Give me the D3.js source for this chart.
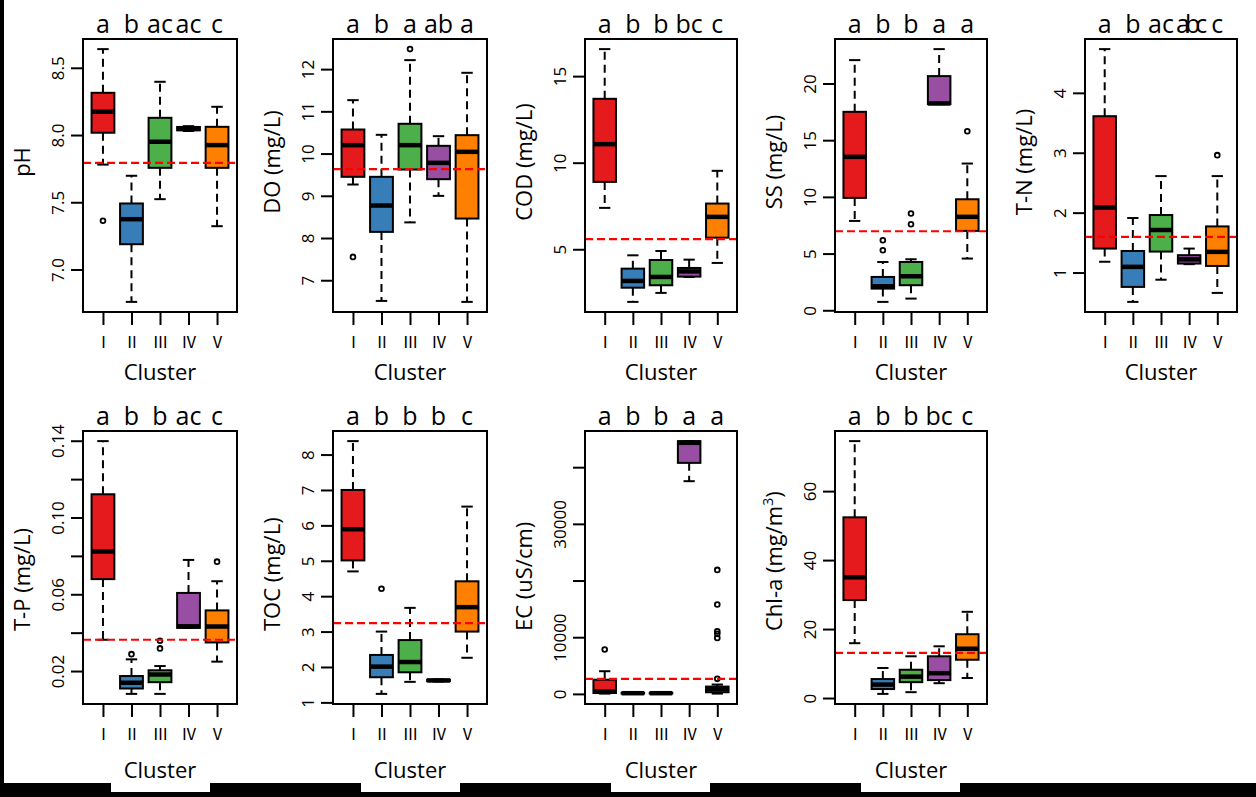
<!DOCTYPE html>
<html><head><meta charset="utf-8">
<script src="https://cdn.jsdelivr.net/npm/d3@7"></script>
<style>body{margin:0;background:#fff}svg{display:block}text{font-family:"Open Sans","Noto Sans CJK KR",sans-serif;fill:#000}</style>
</head><body><svg id="c" width="1256" height="797"></svg>
<script>
// ---------- data ----------
const clusters = ["Ⅰ","Ⅱ","Ⅲ","Ⅳ","Ⅴ"];
const clusterColors = ["#E41A1C","#377EB8","#4DAF4A","#984EA3","#FF7F00"];
// stats per cluster: [lower whisker, Q1, median, Q3, upper whisker]
const pHStats = [[7.78,8.017,8.173,8.314,8.639],[6.759,7.188,7.374,7.491,7.697],[7.523,7.756,7.95,8.128,8.396],[8.03,8.035,8.046,8.06,8.066],[7.322,7.756,7.925,8.061,8.21]];
const pHOut = [[7.362],[],[],[],[]];
const DOStats = [[9.267,9.449,10.199,10.57,11.265],[6.51,8.145,8.769,9.449,10.444],[8.37,9.622,10.199,10.705,12.213],[8.998,9.393,9.78,10.183,10.412],[6.487,8.461,10.041,10.436,11.913]];
const DOOut = [[7.553],[],[12.474],[],[]];
const CODStats = [[7.39,8.89,11.07,13.69,16.56],[1.96,2.78,3.17,3.88,4.65],[2.48,2.92,3.4,4.38,4.9],[3.4,3.42,3.72,3.92,4.4],[4.21,5.67,6.87,7.64,9.53]];
const CODOut = [[],[],[],[],[]];
const SSStats = [[7.88,9.91,13.53,17.5,22.06],[0.74,1.91,2.12,2.94,4.26],[1.03,2.21,3.0,4.26,4.5],[18.18,18.18,18.24,20.65,23.03],[4.56,7.0,8.24,9.79,12.94]];
const SSOut = [[],[5.29,6.18],[7.59,8.53],[],[15.79]];
const TNStats = [[1.18,1.4,2.085,3.61,4.73],[0.51,0.76,1.095,1.36,1.91],[0.88,1.35,1.71,1.96,2.61],[1.14,1.15,1.22,1.29,1.4],[0.66,1.11,1.345,1.77,2.61]];
const TNOut = [[],[],[],[],[2.96]];
const TPStats = [[0.0363,0.0679,0.0823,0.1121,0.1398],[0.0081,0.0109,0.0139,0.0174,0.0261],[0.0081,0.0142,0.0182,0.0204,0.0226],[0.0425,0.0425,0.0433,0.0607,0.0779],[0.0249,0.0349,0.0432,0.0516,0.0668]];
const TPOut = [[],[0.0288],[0.0318,0.0358],[],[0.077]];
const TOCStats = [[4.7,5.01,5.89,7.0,8.38],[1.24,1.71,2.01,2.34,3.0],[1.58,1.85,2.14,2.76,3.67],[1.59,1.6,1.62,1.64,1.65],[2.26,3.0,3.69,4.42,6.53]];
const TOCOut = [[],[4.21],[],[],[]];
const ECStats = [[50,150,400,2500,4000],[0,60,120,200,300],[0,60,120,200,300],[37530,40760,44300,44600,44600],[50,290,820,1290,1650]];
const ECOut = [[7823],[],[],[],[2650,9880,10590,11060,15760,21880]];
const ChlStats = [[15.9,28.4,35.0,52.4,74.5],[1.2,2.6,3.9,5.5,8.7],[1.7,4.6,6.2,8.2,12.1],[4.3,5.2,7.2,12.1,15.0],[5.8,11.1,14.3,18.5,25.0]];
const ChlOut = [[],[],[],[],[]];

const refValues = [7.793, 9.63, 5.58, 6.97, 1.595, 0.0363, 3.24, 2650, 13.1];
const titles = ["pH","DO (mg/L)","COD (mg/L)","SS (mg/L)","T-N (mg/L)","T-P (mg/L)","TOC (mg/L)","EC (uS/cm)","Chl-a (mg/m|3|)"];
const letterGroups = [["a","b","ac","ac","c"],["a","b","a","ab","a"],["a","b","b","bc","c"],["a","b","b","a","a"],["a","b","ac","abc","c"],
  ["a","b","b","ac","c"],["a","b","b","b","c"],["a","b","b","a","a"],["a","b","b","bc","c"]];
const tickValues = [[7.0,7.5,8.0,8.5],[7,8,9,10,11,12],[5,10,15],[0,5,10,15,20],[1,2,3,4],
  [0.02,0.04,0.06,0.08,0.10,0.12,0.14],[1,2,3,4,5,6,7,8],[0,10000,20000,30000,40000],[0,20,40,60]];
const tickLabels = [["7.0","7.5","8.0","8.5"],["7","8","9","10","11","12"],["5","10","15"],["0","5","10","15","20"],["1","2","3","4"],
  ["0.02","","0.06","","0.10","","0.14"],["1","2","3","4","5","6","7","8"],["0","10000","","30000",""],["0","20","40","60"]];
const xTitle = "Cluster";

const allStats = [pHStats,DOStats,CODStats,SSStats,TNStats,TPStats,TOCStats,ECStats,ChlStats];
const allOut = [pHOut,DOOut,CODOut,SSOut,TNOut,TPOut,TOCOut,ECOut,ChlOut];

// ---------- layout ----------
const colLeft = [83, 333, 585, 835, 1085];
const colWidth = [154, 154, 152, 152, 152];
const rowTop = [39, 431];
const rowBottom = [312, 704];
const clusterBaseline = [380, 778];
const titleCenter = [162, 631];

const svg = d3.select("#c");
svg.append("rect").attr("width",1256).attr("height",797).attr("fill","#fff");

allStats.forEach((stats, i) => {
  const row = Math.floor(i/5), col = i%5;
  const left = colLeft[col], w = colWidth[col], top = rowTop[row], bottom = rowBottom[row];
  const x = d3.scaleLinear().domain([0.3, 5.7]).range([left, left + w]);
  const vals = stats.flat().concat(allOut[i].flat());
  const mn = d3.min(vals), mx = d3.max(vals), pad = (mx - mn) * 0.04;
  const y = d3.scaleLinear().domain([mn - pad, mx + pad]).range([bottom, top]);
  const g = svg.append("g");

  // y axis
  const ya = g.append("g").attr("transform", `translate(${left},0)`)
    .call(d3.axisLeft(y).tickValues(tickValues[i]).tickFormat((d, j) => tickLabels[i][j]).tickSize(12));
  ya.select(".domain").remove();
  ya.selectAll(".tick line").attr("stroke", "#000").attr("stroke-width", 2);
  ya.selectAll(".tick text").attr("x", null).attr("dy", null).attr("text-anchor", "middle")
    .attr("transform", "translate(-19,0) rotate(-90)").style("font-size", "17px").attr("fill", "#000");

  // x axis
  const xa = g.append("g").attr("transform", `translate(0,${bottom})`)
    .call(d3.axisBottom(x).tickValues([1,2,3,4,5]).tickFormat((d, j) => clusters[j]).tickSize(13));
  xa.select(".domain").remove();
  xa.selectAll(".tick line").attr("stroke", "#000").attr("stroke-width", 2);
  xa.selectAll(".tick text").attr("y", 36).attr("dy", null).style("font-size", "16px").attr("fill", "#000");

  // boxes
  stats.forEach((s, j) => {
    const cx = x(j + 1), bx0 = x(j + 1 - 0.4), bx1 = x(j + 1 + 0.4), c0 = x(j + 1 - 0.2), c1 = x(j + 1 + 0.2);
    const bg = g.append("g");
    bg.append("line").attr("x1", cx).attr("x2", cx).attr("y1", y(s[3])).attr("y2", y(s[4]))
      .attr("stroke", "#000").attr("stroke-width", 2).attr("stroke-dasharray", "8,5");
    bg.append("line").attr("x1", cx).attr("x2", cx).attr("y1", y(s[1])).attr("y2", y(s[0]))
      .attr("stroke", "#000").attr("stroke-width", 2).attr("stroke-dasharray", "8,5");
    [s[0], s[4]].forEach(v => bg.append("line").attr("x1", c0).attr("x2", c1).attr("y1", y(v)).attr("y2", y(v))
      .attr("stroke", "#000").attr("stroke-width", 2));
    bg.append("rect").attr("x", bx0).attr("width", bx1 - bx0).attr("y", y(s[3])).attr("height", Math.max(0.5, y(s[1]) - y(s[3])))
      .attr("fill", clusterColors[j]).attr("stroke", "#000").attr("stroke-width", 2);
    bg.append("line").attr("x1", bx0).attr("x2", bx1).attr("y1", y(s[2])).attr("y2", y(s[2]))
      .attr("stroke", "#000").attr("stroke-width", 4.5);
    allOut[i][j].forEach(v => bg.append("circle").attr("cx", cx).attr("cy", y(v)).attr("r", 2.4)
      .attr("fill", "none").attr("stroke", "#000").attr("stroke-width", 1.8));
  });

  // reference line
  g.append("line").attr("x1", left).attr("x2", left + w).attr("y1", y(refValues[i])).attr("y2", y(refValues[i]))
    .attr("stroke", "#FF0000").attr("stroke-width", 2.2).attr("stroke-dasharray", "8,4");

  // frame
  g.append("rect").attr("x", left).attr("y", top).attr("width", w).attr("height", bottom - top)
    .attr("fill", "none").attr("stroke", "#000").attr("stroke-width", 2);

  // letters
  letterGroups[i].forEach((l, j) => {
    const t = g.append("text").attr("x", x(j + 1)).attr("y", top - 6.5).attr("text-anchor", "middle")
      .style("font-size", "25px").text(l);
    if (l.length > 2) t.attr("letter-spacing", "-5px");
  });

  // y title
  const parts = titles[i].split("|");
  const tt = g.append("text").attr("transform", `translate(${left - 53},${titleCenter[row]}) rotate(-90)`)
    .attr("text-anchor", row === 0 ? "middle" : "start").style("font-size", "22px");
  tt.append("tspan").text(parts[0]);
  if (parts.length > 1) {
    tt.append("tspan").attr("dy", -9).style("font-size", "14px").text(parts[1]);
    tt.append("tspan").attr("dy", 9).text(parts[2]);
  }

  // x title
  g.append("text").attr("x", x(3)).attr("y", clusterBaseline[row]).attr("text-anchor", "middle")
    .style("font-size", "22px").text(xTitle);
});

// picture border artifacts
svg.append("rect").attr("x", 0).attr("y", 0).attr("width", 4).attr("height", 797).attr("fill", "#000");
svg.append("rect").attr("x", 0).attr("y", 783).attr("width", 1256).attr("height", 14).attr("fill", "#000");
[0,1,2,3].forEach(k => svg.append("rect").attr("x", 111 + 250 * k).attr("y", 783).attr("width", 99).attr("height", 9).attr("fill", "#fff"));
</script></body></html>
